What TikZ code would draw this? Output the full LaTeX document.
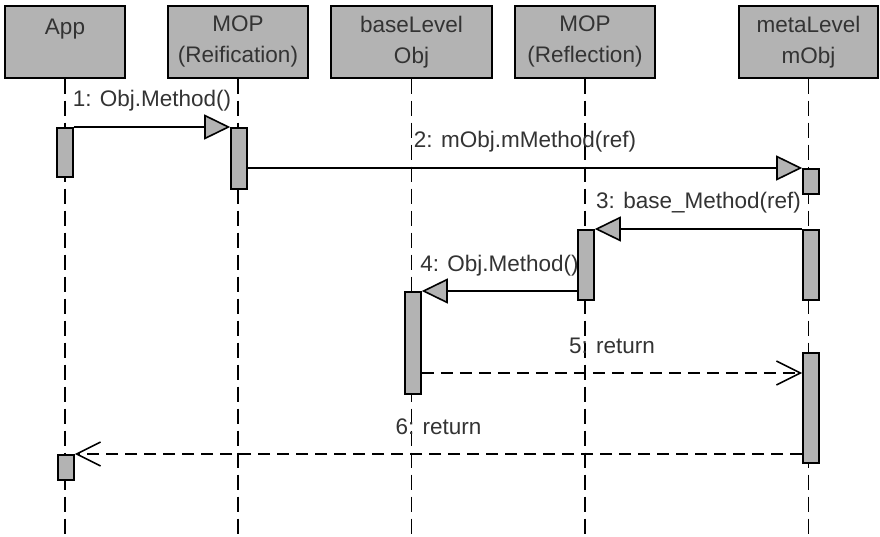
\documentclass[tikz,border=0pt]{standalone}
\usepackage{fontspec}
\setmainfont{Liberation Sans}
\usetikzlibrary{arrows.meta}
\definecolor{boxgray}{RGB}{179,179,179}
\definecolor{inkgray}{RGB}{51,51,51}
\begin{document}
\begin{tikzpicture}[x=1pt, y=-1pt,
		every node/.style={font=\fontsize{22.5}{31}\selectfont, text=inkgray},
		head/.style={draw, line width=1.6pt, fill=boxgray, anchor=north, minimum height=72pt, align=center, inner sep=0pt},
		act/.style={draw, line width=1.6pt, fill=boxgray, anchor=north, minimum width=16pt, inner sep=0pt},
		lifeline/.style={line width=1.6pt, dash pattern=on 15pt off 7pt},
		call/.style={line width=1.6pt, -{Triangle[length=26pt, width=25pt, fill=boxgray]}},
		ret/.style={line width=1.6pt, dash pattern=on 12pt off 7pt, -{Straight Barb[length=24pt, width=24pt]}},
		lbl/.style={midway, anchor=base, yshift=20pt}]
	\useasboundingbox (0,0) rectangle (880,537);
	\coordinate (bot) at (0,537);
	
	\node[head, minimum width=120pt] (app) at (65,5) {App\\\phantom{A}};
	\node[head, minimum width=140pt] (mopr) at (238,5) {MOP\\(Reification)};
	\node[head, minimum width=161pt] (base) at (411.5,5) {baseLevel\\Obj};
	\node[head, minimum width=140pt] (mopf) at (585,5) {MOP\\(Reflection)};
	\node[head, minimum width=139pt] (meta) at (808.5,5) {metaLevel\\mObj};
	
	\draw[lifeline] (app.south) -- (app.south |- bot);
	\draw[lifeline] (mopr.south) -- (mopr.south |- bot);
	\draw[lifeline] (base.south) -- (base.south |- bot);
	\draw[lifeline] (mopf.south) -- (mopf.south |- bot);
	\draw[lifeline] (meta.south) -- (meta.south |- bot);
	
	\node[act, minimum height=49pt] (a1) at (65,127) {};
	\node[act, minimum height=61pt] (a2) at (239,127) {};
	\node[act, minimum height=25pt] (a3) at (811,168) {};
	\node[act, minimum height=70pt] (a4) at (586,229) {};
	\node[act, minimum height=70pt] (a5) at (811,229) {};
	\node[act, minimum height=102pt] (a6) at (413,291) {};
	\node[act, minimum height=110pt] (a7) at (811,352) {};
	\node[act, minimum height=25pt] (a8) at (66,454) {};
	\coordinate (r5) at (0,373);
	
	\draw[call] (a1.north east) -- node[lbl] {1: Obj.Method()} (a2.north west);
	\draw[call] (a2.east |- a3.north) -- node[lbl] {2: mObj.mMethod(ref)} (a3.north west);
	\draw[call] (a5.north west) -- node[lbl] {3: base\_Method(ref)} (a4.north east);
	\draw[call] (a4.west |- a6.north) -- node[lbl] {4: Obj.Method()} (a6.north east);
	\draw[ret] (a6.east |- r5) -- node[lbl] {5: return} (a7.west |- r5);
	\draw[ret] (a7.west |- a8.north) -- node[lbl] {6: return} (a8.north east);
	
\end{tikzpicture}
\end{document}
